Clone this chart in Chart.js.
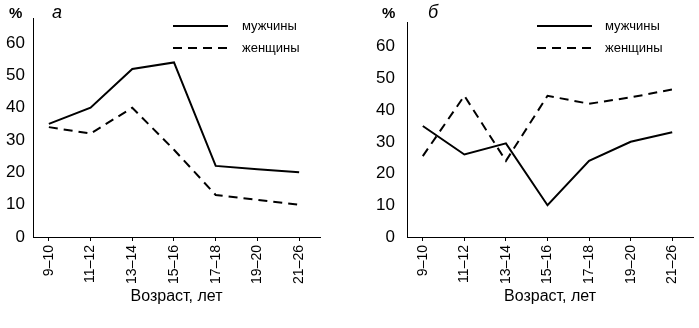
<!DOCTYPE html>
<html>
<head>
<meta charset="utf-8">
<script src="https://cdn.jsdelivr.net/npm/chart.js@4.4.1/dist/chart.umd.min.js"></script>
<style>
  body { margin: 0; background: #fff; }
  canvas { position: absolute; top: 0; }
  #chartA { left: 0; }
  #chartB { left: 350px; }
</style>
</head>
<body>
<canvas id="chartA" width="350" height="328"></canvas>
<canvas id="chartB" width="349" height="328"></canvas>
<script>
const ages = ['9–10', '11–12', '13–14', '15–16', '17–18', '19–20', '21–26'];
const menA = [35, 40, 52, 54, 22, 21, 20];
const womenA = [34, 32, 40, 27, 13, 11.5, 10];
const menB = [35, 26, 29.5, 10, 24, 30, 33];
const womenB = [25.5, 44.5, 24, 44.5, 42, 44, 46.5];
const yTicks = [0, 10, 20, 30, 40, 50, 60];
const seriesNames = ['мужчины', 'женщины'];

const FONT = "'Liberation Sans', Arial, sans-serif";

// legend, panel letter and % sign, drawn over the chart
const panelPlugin = {
  id: 'panel',
  afterDraw(chart, args, opts) {
    const ctx = chart.ctx;
    ctx.save();
    ctx.fillStyle = '#000';
    ctx.strokeStyle = '#000';
    ctx.textBaseline = 'middle';
    ctx.font = 'bold 15px ' + FONT;
    ctx.fillText('%', opts.pctX, 14);
    ctx.font = 'italic 18px ' + FONT;
    ctx.fillText(opts.letter, opts.letterX, 13);
    chart.data.datasets.forEach((ds, i) => {
      const y = 26 + i * 22;
      ctx.lineWidth = 2;
      ctx.setLineDash(ds.borderDash || []);
      ctx.beginPath();
      ctx.moveTo(opts.lineX, y);
      ctx.lineTo(opts.lineX + 55, y);
      ctx.stroke();
      ctx.setLineDash([]);
      ctx.font = '13px ' + FONT;
      ctx.fillText(ds.label, opts.textX, y);
    });
    ctx.restore();
  }
};

function makeChart(id, men, women, o) {
  return new Chart(document.getElementById(id), {
    type: 'line',
    data: {
      datasets: [{
        label: seriesNames[0],
        data: men.map((v, i) => ({ x: i, y: v })),
        borderColor: '#000',
        borderWidth: 2,
        pointRadius: 0,
        tension: 0
      }, {
        label: seriesNames[1],
        data: women.map((v, i) => ({ x: i, y: v })),
        borderColor: '#000',
        borderWidth: 2,
        borderDash: [9, 6],
        pointRadius: 0,
        tension: 0
      }]
    },
    options: {
      responsive: false,
      animation: false,
      layout: { padding: { left: 0, right: o.padRight, top: 17, bottom: 0 } },
      plugins: {
        legend: { display: false },
        tooltip: { enabled: false },
        panel: o.panel
      },
      scales: {
        x: {
          type: 'linear',
          min: -0.38,
          max: 6.5,
          afterBuildTicks: s => { s.ticks = ages.map((a, i) => ({ value: i })); },
          afterFit: s => { s.height = 91; },
          grid: { drawOnChartArea: false, drawTicks: true, tickLength: 4, color: '#000' },
          border: { display: true, color: '#000', width: 1 },
          ticks: {
            callback: v => ages[v],
            minRotation: 90,
            maxRotation: 90,
            padding: 4,
            color: '#000',
            font: { family: FONT, size: 14 }
          },
          title: {
            display: true,
            text: 'Возраст, лет',
            color: '#000',
            font: { family: FONT, size: 16 },
            padding: { top: 0, bottom: 22 }
          }
        },
        y: {
          min: 0,
          max: 67.7,
          afterBuildTicks: s => { s.ticks = yTicks.map(v => ({ value: v })); },
          afterFit: s => { s.width = o.yWidth; },
          grid: { display: false, drawTicks: false },
          border: { display: true, color: '#000', width: 1 },
          ticks: {
            padding: o.yPad,
            color: '#000',
            font: { family: FONT, size: 17 }
          }
        }
      }
    },
    plugins: [panelPlugin]
  });
}

makeChart('chartA', menA, womenA, {
  padRight: 30, yWidth: 33, yPad: 8,
  panel: { pctX: 9, letter: 'а', letterX: 52, lineX: 173, textX: 242 }
});
makeChart('chartB', menB, womenB, {
  padRight: 6, yWidth: 57, yPad: 12,
  panel: { pctX: 32, letter: 'б', letterX: 78, lineX: 187, textX: 255 }
});
</script>
</body>
</html>
